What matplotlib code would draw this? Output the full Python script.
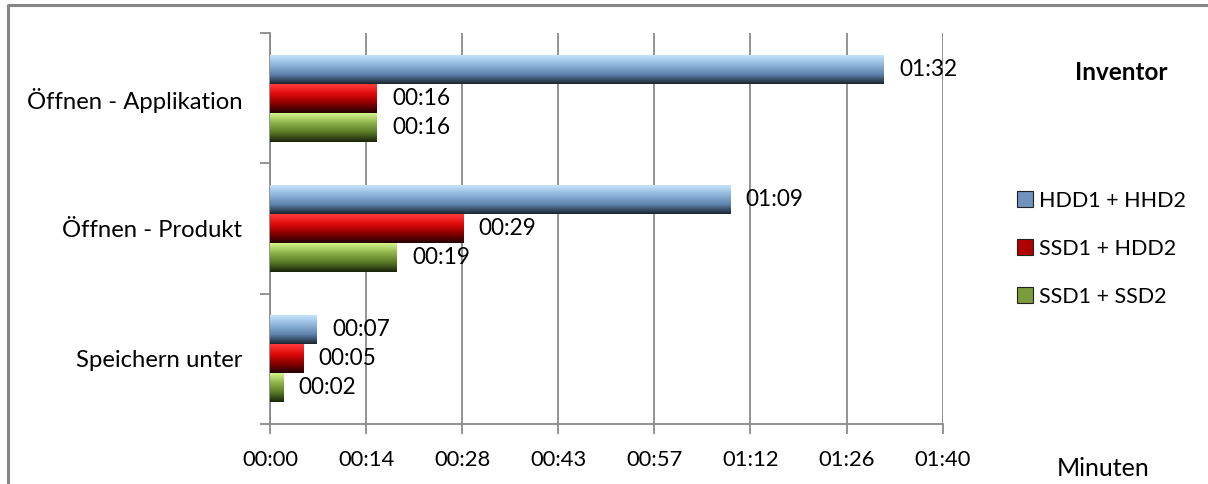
import numpy as np
import matplotlib.pyplot as plt
from matplotlib.colors import LinearSegmentedColormap
from matplotlib.patches import Patch
from matplotlib.lines import Line2D
from matplotlib.ticker import FuncFormatter

plt.rcParams['font.family'] = ['Lato', 'DejaVu Sans']

# times in seconds, categories from top to bottom
categories = ['Öffnen - Applikation', 'Öffnen - Produkt', 'Speichern unter']
series = ['HDD1 + HHD2', 'SSD1 + HDD2', 'SSD1 + SSD2']
hdd_hdd = [92, 69, 7]
ssd_hdd = [16, 29, 5]
ssd_ssd = [16, 19, 2]
x_ticks = [0, 14.4, 28.8, 43.2, 57.6, 72.0, 86.4, 100.8]

# light top -> base -> dark bottom, for the bevelled look
gradients = [
    ['#c3e3fa', '#8fb5dc', '#5f84ad', '#1b2530'],
    ['#ff3b3b', '#e00a0a', '#8a0000', '#250000'],
    ['#d3f58a', '#8fb34a', '#5a7a26', '#1a240c'],
]
mid_colors = ['#6f93bd', '#b00000', '#7a9c3a']


def mmss(v, pos=None):
    s = int(v)
    return '%02d:%02d' % (s // 60, s % 60)


fig = plt.figure(figsize=(12.08, 4.84), dpi=100)
ax = fig.add_axes([270 / 1208, 1 - 424 / 484, (942.7 - 270) / 1208, (424 - 33) / 484])

y = np.arange(len(categories))[::-1]
h = 0.222
offsets = [h, 0, -h]
grid_c = '#8a8a8a'

for vals, off, grad in zip([hdd_hdd, ssd_hdd, ssd_ssd], offsets, gradients):
    bars = ax.barh(y + off, vals, height=h, color='none', edgecolor='none', zorder=3)
    cmap = LinearSegmentedColormap.from_list('g', grad[::-1])
    img = np.linspace(0, 1, 64).reshape(-1, 1)
    for b, v in zip(bars, vals):
        x0, y0, w, hh = b.get_x(), b.get_y(), b.get_width(), b.get_height()
        im = ax.imshow(img, cmap=cmap, extent=(x0, x0 + w, y0, y0 + hh),
                       origin='lower', aspect='auto', zorder=3, interpolation='bilinear')
        im.set_clip_path(b)
        ax.annotate(mmss(v), (x0 + w, y0 + hh / 2), xytext=(11, 0),
                    textcoords='offset points', va='center', ha='left',
                    fontsize=16.3, color='black', zorder=4)

ax.set_xlim(0, 100.8)
ax.set_ylim(-0.5, 2.5)
ax.set_xticks(x_ticks)
ax.xaxis.set_major_formatter(FuncFormatter(mmss))
ax.set_yticks([-0.5, 0.5, 1.5, 2.5])
ax.set_yticklabels([])
ax.set_yticks(y, minor=True)
ax.set_yticklabels(categories, minor=True)
ax.tick_params(axis='y', which='minor', length=0, pad=20, labelsize=17.2)
ax.tick_params(axis='y', which='major', length=7, width=1.3, color=grid_c)
ax.tick_params(axis='x', length=7, width=1.3, color=grid_c, pad=12, labelsize=15.8)
ax.grid(axis='x', color=grid_c, lw=1.3, zorder=0)
ax.set_axisbelow(True)
for s in ['top', 'right']:
    ax.spines[s].set_visible(False)
for s in ['left', 'bottom']:
    ax.spines[s].set_color(grid_c)
    ax.spines[s].set_linewidth(1.3)

handles = [Patch(facecolor=c, edgecolor='#222222', lw=0.8) for c in mid_colors]
fig.legend(handles, series, loc='upper left', bbox_to_anchor=(1006 / 1208, 1 - 180 / 484),
           frameon=False, fontsize=15.5, handlelength=0.75, handleheight=0.75,
           handletextpad=0.3, labelspacing=1.3, borderpad=0)

fig.text(1121 / 1208, 1 - 72 / 484, 'Inventor', fontsize=17.5, fontweight='bold',
         ha='center', va='center')
fig.text(1103 / 1208, 1 - 469 / 484, 'Minuten', fontsize=18, ha='center', va='center')

# outer chart frame (cut off at right and bottom)
fig.add_artist(Line2D([8 / 1208, 8 / 1208, 1], [0, 1 - 5 / 484, 1 - 5 / 484],
                      transform=fig.transFigure, color='#868686', lw=2.2))

fig.savefig('out.png', dpi=100)
